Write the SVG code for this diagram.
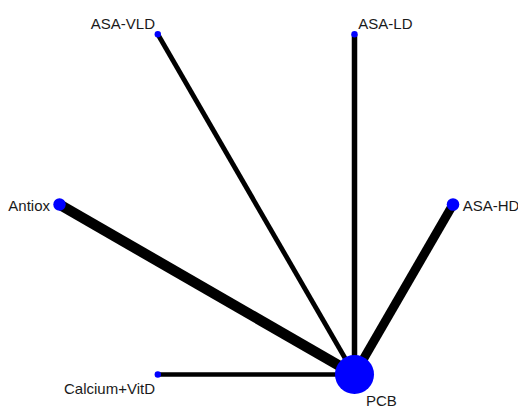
<svg xmlns="http://www.w3.org/2000/svg" width="518" height="408" viewBox="0 0 518 408">
  <style>
    .edge { stroke: #000; fill: none; stroke-linecap: butt; }
    .node { fill: #0000FF; }
    .lbl { font-family: "Liberation Sans", Arial, sans-serif; font-size: 15px; fill: #1a1a1a; }
  </style>
  <rect width="518" height="408" fill="#fff"/>
  <!-- comparisons, drawn beneath the treatment nodes -->
  <g id="edges">
    <line class="edge" x1="59.5" y1="204.5" x2="354.5" y2="374.5" stroke-width="10.5"/>
    <line class="edge" x1="157.8" y1="34.3" x2="354.5" y2="374.5" stroke-width="4.8"/>
    <line class="edge" x1="354.5" y1="34.3" x2="354.5" y2="374.5" stroke-width="5.5"/>
    <line class="edge" x1="453" y1="204.5" x2="354.5" y2="374.5" stroke-width="9"/>
    <line class="edge" x1="157.8" y1="374.5" x2="354.5" y2="374.5" stroke-width="4.6"/>
  </g>
  <g id="node-asa-vld">
    <circle class="node" cx="157.8" cy="34.3" r="3.2"/>
    <text class="lbl" x="155" y="29" text-anchor="end">ASA-VLD</text>
  </g>
  <g id="node-asa-ld">
    <circle class="node" cx="354.5" cy="34.3" r="3.2"/>
    <text class="lbl" x="358.3" y="29">ASA-LD</text>
  </g>
  <g id="node-antiox">
    <circle class="node" cx="59.5" cy="204.5" r="6.2"/>
    <text class="lbl" x="50" y="210.5" text-anchor="end">Antiox</text>
  </g>
  <g id="node-asa-hd">
    <circle class="node" cx="453" cy="204.5" r="6.3"/>
    <text class="lbl" x="462.7" y="210.5">ASA-HD</text>
  </g>
  <g id="node-calcium-vitd">
    <circle class="node" cx="157.8" cy="374.5" r="3.2"/>
    <text class="lbl" x="155" y="394" text-anchor="end">Calcium+VitD</text>
  </g>
  <g id="node-pcb">
    <circle class="node" cx="354.5" cy="374.5" r="19.5"/>
    <text class="lbl" x="366" y="406">PCB</text>
  </g>
</svg>
